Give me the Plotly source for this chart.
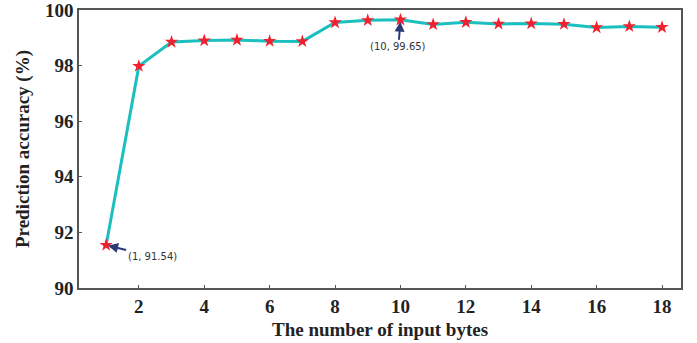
import plotly.graph_objects as go

x_bytes = list(range(1, 19))
accuracy = [91.54, 97.98, 98.85, 98.90, 98.92, 98.88, 98.87, 99.55, 99.63, 99.65,
            99.48, 99.56, 99.50, 99.51, 99.49, 99.37, 99.41, 99.38]
x_ticks = [2, 4, 6, 8, 10, 12, 14, 16, 18]
y_ticks = [90, 92, 94, 96, 98, 100]

fig = go.Figure()
fig.add_trace(go.Scatter(
    x=x_bytes, y=accuracy, mode="lines+markers",
    line=dict(color="#1cbfbf", width=3),
    marker=dict(symbol="star", size=10, color="#f0202e", line=dict(width=0)),
    showlegend=False,
))

fig.add_annotation(x=10, y=99.65, text="(10, 99.65)", showarrow=True,
                   ax=-2, ay=27, arrowhead=2, arrowsize=1, arrowwidth=2,
                   arrowcolor="#2a3a78", standoff=2,
                   font=dict(family="DejaVu Sans", size=10, color="#333333"))
fig.add_annotation(x=1, y=91.54, text="(1, 91.54)", showarrow=True,
                   ax=46, ay=11, arrowhead=2, arrowsize=1, arrowwidth=2,
                   arrowcolor="#2a3a78", standoff=2,
                   font=dict(family="DejaVu Sans", size=10, color="#333333"))

axis_font = dict(family="Liberation Serif", size=19, color="#222222", weight="bold")
tick_font = dict(family="Liberation Serif", size=19, color="#222222", weight="bold")
fig.update_layout(
    width=697, height=343,
    margin=dict(l=79, r=16, t=10, b=55, autoexpand=False),
    paper_bgcolor="white", plot_bgcolor="white",
    xaxis=dict(range=[0.17, 18.58], tickvals=x_ticks, showgrid=False, zeroline=False,
               showline=True, mirror=True, linecolor="#555555", linewidth=1.5,
               ticks="inside", ticklen=3, tickcolor="#555555", automargin=False,
               tickfont=tick_font, ticklabeloverflow="allow",
               title=dict(text="The number of input bytes", font=axis_font, standoff=7)),
    yaxis=dict(range=[90, 100], tickvals=y_ticks, showgrid=False, zeroline=False,
               showline=True, mirror=True, linecolor="#555555", linewidth=1.5,
               ticks="inside", ticklen=3, tickcolor="#555555", automargin=False,
               tickfont=tick_font, ticklabeloverflow="allow",
               title=dict(text="Prediction accuracy (%)", font=axis_font, standoff=10)),
)

fig.write_html("out.html", config={"displayModeBar": False},
               post_script="document.body.style.margin='0';document.body.style.overflow='hidden';")
